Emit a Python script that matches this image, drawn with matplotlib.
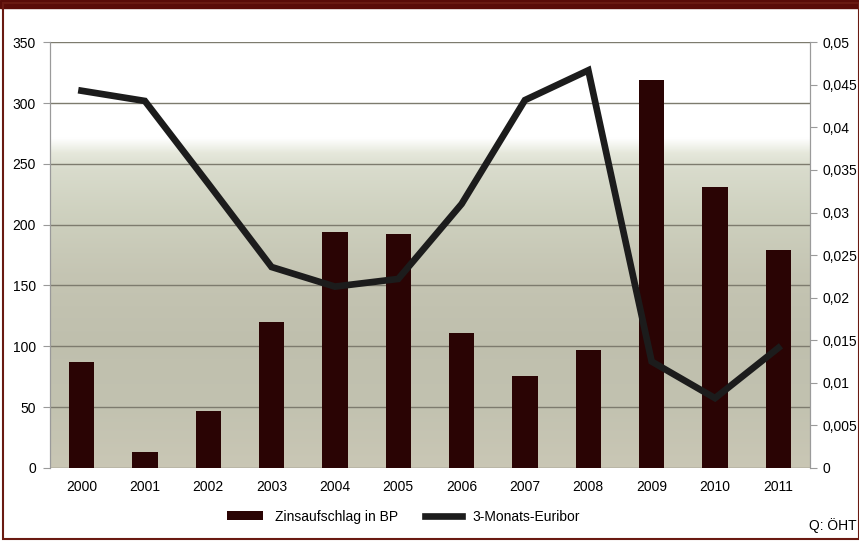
import numpy as np
import matplotlib.pyplot as plt
from matplotlib.patches import Rectangle
from matplotlib.ticker import FuncFormatter

plt.rcParams['font.family'] = ['Liberation Sans', 'DejaVu Sans']

# data
years = ['2000', '2001', '2002', '2003', '2004', '2005',
         '2006', '2007', '2008', '2009', '2010', '2011']
spread_bp = [87, 13, 47, 120, 194, 192, 111, 76, 97, 319, 231, 179]
euribor = [0.0443, 0.0431, 0.0334, 0.0236, 0.0213, 0.0222,
           0.0310, 0.0432, 0.0467, 0.0125, 0.0082, 0.0141]

fig = plt.figure(figsize=(8.59, 5.41), dpi=100)
fig.patch.set_facecolor('white')

ax = fig.add_axes([0.058, 0.135, 0.885, 0.787])
ax2 = ax.twinx()

x = np.arange(len(years))
ax.set_xlim(-0.5, len(years) - 0.5)
ax.set_ylim(0, 350)
ax2.set_ylim(0, 0.05)

# background gradient: olive grey at the bottom, white at the top
pos = np.array([0.0, 0.15, 0.30, 0.45, 0.60, 0.70, 0.74, 0.775, 1.0])
grad = np.array([
    [0.79, 0.78, 0.71],
    [0.76, 0.76, 0.69],
    [0.75, 0.75, 0.68],
    [0.77, 0.77, 0.70],
    [0.81, 0.82, 0.75],
    [0.85, 0.86, 0.80],
    [0.90, 0.91, 0.86],
    [1.00, 1.00, 1.00],
    [1.00, 1.00, 1.00],
])
yy = np.linspace(0, 1, 400)
img = np.stack([np.interp(yy, pos, grad[:, c]) for c in range(3)], axis=1)[:, None, :]
ax.imshow(img, extent=[-0.5, len(years) - 0.5, 0, 350], origin='lower',
          aspect='auto', zorder=0, interpolation='bilinear')

ax.set_yticks(range(0, 351, 50))
ax.grid(axis='y', color='#7d7b6e', linewidth=1.0, zorder=1)
ax.set_axisbelow(True)

ax.bar(x, spread_bp, width=0.4, color='#2a0404', zorder=2, label='Zinsaufschlag in BP')
ax2.plot(x, euribor, color='#1c1c1c', linewidth=4.8, solid_joinstyle='miter',
         label='3-Monats-Euribor', zorder=3)

ax.set_xticks(x)
ax.set_xticklabels(years)
ax2.set_yticks(np.arange(0, 0.0501, 0.005))
ax2.yaxis.set_major_formatter(FuncFormatter(
    lambda v, p: '0' if abs(v) < 1e-9 else ('%g' % round(v, 3)).replace('.', ',')))

for a in (ax, ax2):
    for s in a.spines.values():
        s.set_color('#9a9a9a')
        s.set_linewidth(0.8)
    a.spines['top'].set_visible(False)
    a.spines['bottom'].set_visible(False)
ax.tick_params(axis='y', length=5, color='#9a9a9a', labelsize=10, pad=5)
ax.tick_params(axis='x', length=0, labelsize=10, pad=9)
ax2.tick_params(axis='y', length=5, color='#9a9a9a', labelsize=10, pad=4)

h1, l1 = ax.get_legend_handles_labels()
h2, l2 = ax2.get_legend_handles_labels()
fig.legend(h1 + h2, l1 + l2, loc='center', bbox_to_anchor=(0.47, 0.045),
           ncol=2, frameon=False, fontsize=10, handlelength=2.6,
           columnspacing=2.0, handleheight=0.6)

fig.text(0.942, 0.015, 'Q: ÖHT', fontsize=10, ha='left', va='bottom')

# dark red frame
fig.add_artist(Rectangle((0, 0.985), 1, 0.015, transform=fig.transFigure,
                         color='#5a0c08', zorder=10))
fig.add_artist(Rectangle((0.004, 0.004), 0.996, 0.99, transform=fig.transFigure,
                         fill=False, edgecolor='#6a1a12', linewidth=1.5, zorder=10))

fig.savefig('out.png', dpi=100)
